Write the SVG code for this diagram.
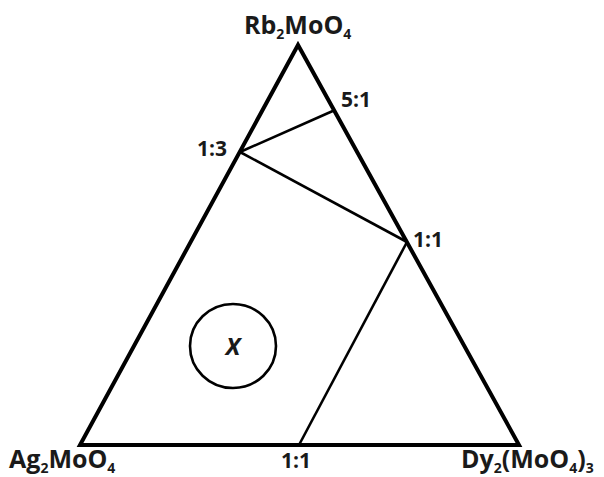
<svg xmlns="http://www.w3.org/2000/svg" width="604" height="477" viewBox="0 0 604 477">
<style>
.t{font-family:"Open Sans","DejaVu Sans",sans-serif;font-weight:bold;fill:#1a1a1a}
.lbl{font-size:21px}
.cmp{font-size:25px}
.sub{font-size:14px}
.edge{stroke:#000;stroke-width:4;fill:none;stroke-linejoin:miter}
.tie{stroke:#000;stroke-width:2.6;fill:none}
</style>
<rect width="604" height="477" fill="#fff"/>
<g id="triangle">
<polygon class="edge" points="298,45 80,445 519,445"/>
</g>
<g id="connectors">
<line class="tie" x1="240" y1="152" x2="335" y2="110"/>
<line class="tie" x1="240" y1="152" x2="407" y2="242"/>
<line class="tie" x1="407" y1="242" x2="299" y2="445"/>
</g>
<g id="region-x">
<ellipse cx="233" cy="346" rx="43" ry="42" fill="none" stroke="#000" stroke-width="2.6"/>
<text class="t" x="233" y="355" font-size="24" font-style="italic" text-anchor="middle">X</text>
</g>
<g id="node-rb">
<text class="t cmp" x="244" y="34">Rb<tspan class="sub" dy="5">2</tspan><tspan dy="-5">MoO</tspan><tspan class="sub" dy="5">4</tspan></text>
</g>
<g id="node-ag">
<text class="t cmp" x="9" y="468">Ag<tspan class="sub" dy="5">2</tspan><tspan dy="-5">MoO</tspan><tspan class="sub" dy="5">4</tspan></text>
</g>
<g id="node-dy">
<text class="t cmp" x="461" y="468">Dy<tspan class="sub" dy="5">2</tspan><tspan dy="-5">(MoO</tspan><tspan class="sub" dy="5">4</tspan><tspan dy="-5">)</tspan><tspan class="sub" dy="5">3</tspan></text>
</g>
<g id="p-5-1"><text class="t lbl" x="341" y="107">5:1</text></g>
<g id="p-1-3"><text class="t lbl" x="197" y="156">1:3</text></g>
<g id="p-1-1-r"><text class="t lbl" x="413" y="247">1:1</text></g>
<g id="p-1-1-b"><text class="t lbl" x="281" y="468">1:1</text></g>
</svg>
